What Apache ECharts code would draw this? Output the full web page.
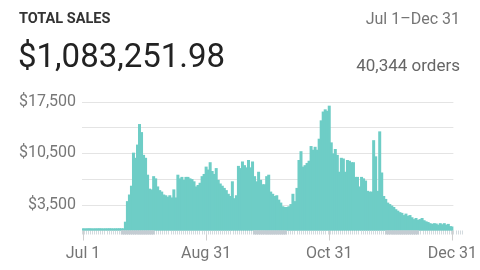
<!DOCTYPE html>
<html><head><meta charset="utf-8">
<script src="https://cdn.jsdelivr.net/npm/echarts@6/dist/echarts.min.js"></script>
<style>html,body{margin:0;padding:0;background:#fff}#c{width:480px;height:270px}</style>
</head><body><div id="c"></div>
<script>
const monthNames = ['Jul','Aug','Sep','Oct','Nov','Dec'];
const monthDays = [31,31,30,31,30,31];
const days = [];
monthNames.forEach((m, i) => { for (let d = 1; d <= monthDays[i]; d++) days.push(m + ' ' + d); });

// daily sales, Jul 1 .. Dec 31
const julSales = [300,290,300,310,300,290,300,300,310,300,290,300,300,310,300,290,300,300,310,300,300,
  1200,4000,4900,6100,10600,9900,11700,14500,13400,10300];
const augSales = [9900,7600,5700,5600,7400,7100,6000,5500,5300,4900,4800,4600,4800,4500,5600,4500,
  7600,7100,7300,6900,7300,7300,7100,7000,6700,6000,6200,6500,7400,7700,8700];
const sepSales = [8300,9300,8100,7700,8500,6900,6400,6100,5800,5500,5000,4700,6700,4400,4800,
  8800,8500,9400,8900,8600,9600,8600,9400,7400,6700,8000,6900,6300,6300,7400];
const octSales = [7600,5300,5000,4700,4800,4200,3800,3300,3200,3200,3300,3600,5000,4000,5800,
  9600,10800,8700,8900,9200,9500,11500,11000,11400,11000,12500,15000,16200,16500,16300,17000];
const novSales = [12000,10500,11100,10300,8000,9900,9800,8000,9600,9500,9300,9300,7300,7300,6000,
  7300,7100,6800,5400,5300,5300,12300,10100,5400,13500,7900,4700,4300,3800,3600];
const decSales = [3400,3200,2900,2700,2500,2400,2100,2300,2000,2100,1800,1550,1700,1450,1550,1700,
  1400,1250,1150,1000,900,1000,950,800,1000,850,1000,800,900,600,550];
const sales = [].concat(julSales, augSales, sepSales, octSales, novSales, decSales);

const yTickValues = [3500, 10500, 17500];
const xTickLabels = ['Jul 1', 'Aug 31', 'Oct 31', 'Dec 31'];
const highlightRanges = [['Jul 20','Aug 4'], ['Sep 22','Oct 7'], ['Nov 25','Dec 10']];

const band = days.map((d, i) => highlightRanges.some(r => i >= days.indexOf(r[0]) && i <= days.indexOf(r[1])) ? 1 : 0);

const chart = echarts.init(document.getElementById('c'), null, {renderer: 'canvas'});
const FONT = 'Roboto';
const BAR = '#6ecdc6';
chart.setOption({
  animation: false,
  backgroundColor: '#fff',
  grid: [
    {left: 82, right: 18, top: 102, bottom: 39.5},
    {left: 82, right: 18, top: 230.5, height: 4}
  ],
  xAxis: [
    {type: 'category', gridIndex: 0, data: days, boundaryGap: true,
     axisLine: {show: false},
     axisTick: {show: true, alignWithLabel: true, length: 10, interval: (i, v) => xTickLabels.includes(v), lineStyle: {color: '#cfcfcf'}},
     axisLabel: {interval: (i, v) => xTickLabels.includes(v), margin: 15, color: '#757575', fontSize: 16, fontFamily: FONT},
     splitLine: {show: false}},
    {type: 'category', gridIndex: 1, data: days, boundaryGap: true,
     axisLine: {show: false},
     axisTick: {show: true, inside: true, interval: 0, length: 4, lineStyle: {color: '#d3dade'}},
     axisLabel: {show: false}}
  ],
  yAxis: [
    {type: 'value', gridIndex: 0, min: 0, max: 17500, interval: 3500,
     axisLine: {show: false}, axisTick: {show: false},
     axisLabel: {margin: 6, color: '#777', fontSize: 16, fontFamily: FONT,
       formatter: v => yTickValues.includes(v) ? '$' + v.toLocaleString('en-US') : ''},
     splitLine: {lineStyle: {color: '#e4e4e4'}}},
    {type: 'value', gridIndex: 1, min: 0, max: 1, show: false}
  ],
  series: [
    {type: 'bar', xAxisIndex: 0, yAxisIndex: 0, data: sales, barWidth: 3, large: false,
     itemStyle: {color: BAR}},
    {type: 'bar', xAxisIndex: 1, yAxisIndex: 1, data: band, barWidth: 3,
     itemStyle: {color: '#c4ccd2'}}
  ],
  graphic: [
    {type: 'text', left: 19, top: 12, style: {text: 'TOTAL SALES', font: 'bold 14.5px Roboto', fill: '#333'}},
    {type: 'text', right: 20, top: 12, style: {text: 'Jul 1\u2013Dec 31', font: '16px Roboto', fill: '#757575'}},
    {type: 'text', left: 18, top: 42, style: {text: '$1,083,251.98', font: '33px Roboto', fill: '#222'}},
    {type: 'text', right: 20, top: 58, style: {text: '40,344 orders', font: '17px Roboto', fill: '#666'}}
  ]
});
</script></body></html>
